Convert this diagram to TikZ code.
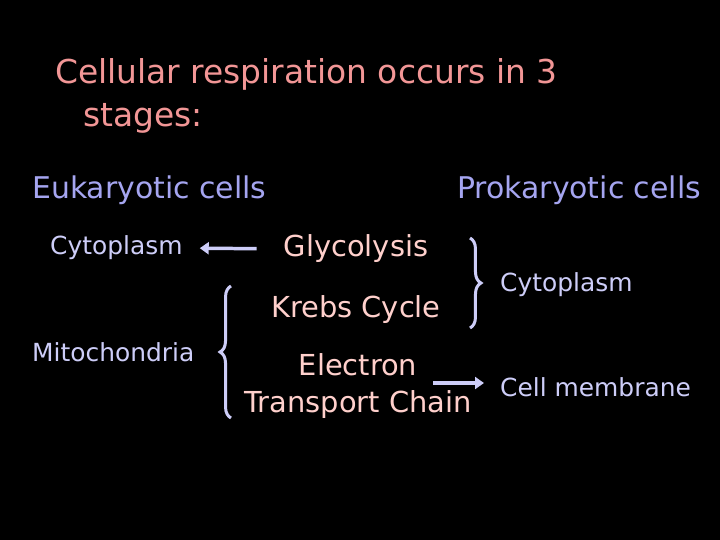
\documentclass[tikz,border=0pt]{standalone}
\usepackage{fontspec}
\setmainfont{DejaVu Sans}
\usetikzlibrary{arrows.meta, positioning, decorations.pathreplacing}
\definecolor{titlepink}{RGB}{242,150,150}
\definecolor{stagepink}{RGB}{255,208,204}
\definecolor{celltype}{RGB}{165,165,240}
\definecolor{lavender}{RGB}{205,205,248}
\tikzset{
    x=1bp, y=-1bp,
    every node/.style = {inner sep=0pt},
    heading/.style = {font=\fontsize{33}{43}\selectfont, text=titlepink, align=left},
    celltype/.style = {font=\fontsize{30}{34}\selectfont, text=celltype, anchor=west},
    stage/.style = {font=\fontsize{29}{38}\selectfont, text=stagepink, align=center},
    place/.style = {font=\fontsize{25}{28}\selectfont, text=lavender, anchor=west},
    pointer/.style = {draw=lavender, line width=3.5pt, -{Triangle[length=9pt, width=12pt]}},
    curly/.style = {draw=lavender, line width=3pt, decorate,
                    decoration={brace, amplitude=11pt}}
}
\begin{document}
\begin{tikzpicture}
  \fill[black] (0,0) rectangle (720,540);
  \useasboundingbox (0,0) rectangle (720,540);

  % title
  \node [heading, anchor=west] (title) at (55,96)
    {Cellular respiration occurs in 3\\\hspace*{28bp}stages:};

  % the two kinds of cells
  \node [celltype] (euk) at (32,190) {Eukaryotic cells};
  \node [celltype] (prok) at (457,190) {Prokaryotic cells};

  % the three stages
  \node [stage] (glyco) at (356,249) {Glycolysis};
  \node [stage] (krebs) at (356,310) {Krebs Cycle};
  \node [stage] (etc) at (358,386) {Electron\\Transport Chain};

  % where they happen
  \node [place] (cytoleft) at (50,248) {Cytoplasm};
  \node [place] (mito) at (32,352) {Mitochondria};
  \node [place] (cytoright) at (500,285) {Cytoplasm};
  \node [place] (cellmem) at (500,387) {Cell membrane};

  \coordinate (bracetop) at (470,238);
  \coordinate (bracebot) at (470,328);
  \coordinate (mitotop) at (231,286);
  \coordinate (mitobot) at (231,418);
  \coordinate (etcout) at (433,383);

  \draw [pointer, shorten <=27bp, shorten >=17bp] (glyco.west) -- (cytoleft.east);
  \draw [pointer, shorten >=16bp] (etcout) -- (cellmem.west |- etcout);
  \draw [curly] (bracetop) -- (bracebot);
  \draw [curly] (mitobot) -- (mitotop);
\end{tikzpicture}
\end{document}
